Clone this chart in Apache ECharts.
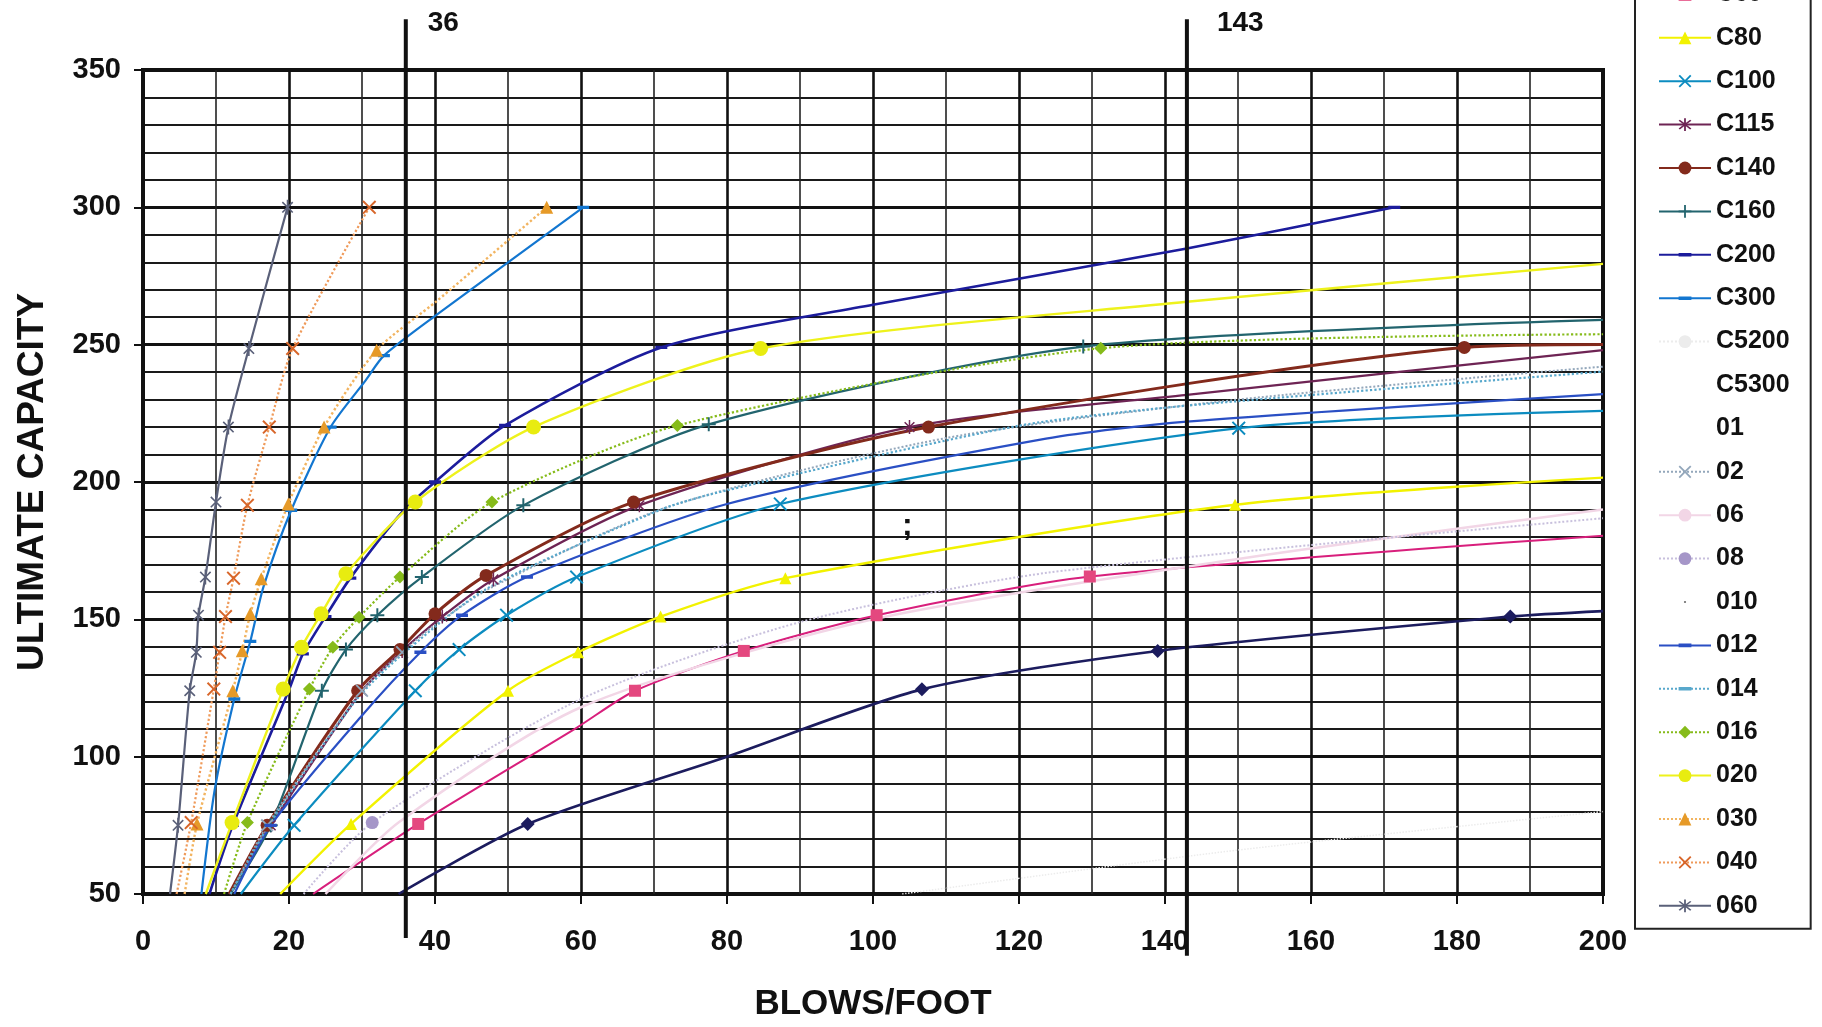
<!DOCTYPE html>
<html>
<head>
<meta charset="utf-8">
<script src="https://cdn.jsdelivr.net/npm/echarts@6/dist/echarts.min.js"></script>
<style>
html, body { margin: 0; padding: 0; background: #fff; }
#container { width: 1822px; height: 1027px; }
</style>
</head>
<body>
<div id="container"></div>
<script>
// points are [blows/foot, capacity]; a third value 0 = point, no marker
var c40 = [[35,50,0],[52.7,75.5],[80,100,0],[106.7,124.5],[139,138.5],[187.3,151],[200,153,0]];
var c60 = [[23.3,50,0],[37.7,75.5],[59.5,110.7,0],[67.4,124],[82.3,138.5],[100.5,151.5],[129.7,165.6],[200,180.4,0]];
var c80 = [[18.8,50,0],[28.5,75.5],[50,124],[59.6,138],[70.9,151],[88,165],[149.6,191.7],[200,201.6,0]];
var c100 = [[13.4,50,0],[20.7,75],[37.3,124],[43.3,139],[49.8,151.5],[59.4,165.4],[87.3,192],[150.1,219.6],[200,225.9,0]];
var c115 = [[11.8,50,0],[17.5,75],[30,124],[35.5,138.5],[41,151],[48,164.5],[68,191.5],[105,220],[143,231.7,0],[200,248,0]];
var c140 = [[11.8,50,0],[17,75],[29.4,124],[35.2,139],[40,152],[47,166],[67.2,192.7],[107.6,220],[181,249],[200,250.1,0]];
var c160 = [[12,50,0],[17.5,75],[24.5,124],[27.8,139],[32.1,151.5],[38.2,165.4],[52.1,191.5],[77.5,221],[128.8,249.3],[200,259,0]];
var c200 = [[9.1,50,0],[12.3,75],[20.1,125,0],[21.9,137.4],[25,151],[28.4,165],[35.5,189,0],[40,200],[49.6,220.6],[71,249],[100,264.5,0],[143,285,0],[171.4,300]];
var c300 = [[8,50,0],[9.8,87.6,0],[12.5,121],[14.7,142],[16.5,161.8,0],[20.3,189.7],[25.7,220],[30.5,237,0],[33,246],[40.3,261,0],[60.3,300]];
var c5200 = [[104,50,0],[150,66,0],[200,80,0]];
var c5300 = [];
var o01 = [];
var o02 = [[12,50,0],[17,75],[30,124],[35.5,138],[40,148,0],[48,162,0],[72,191,0],[110,216,0],[150,230,0],[200,242,0]];
var o06 = [[25,50,0],[35,76,0],[60,118,0],[100,150,0],[150,172,0],[200,190,0]];
var o08 = [[22,50,0],[31.4,76],[60,121,0],[90,149,0],[124,167,0],[200,186.8,0]];
var o010 = [];
var o012 = [[12.5,50,0],[17.5,75],[30,115,0],[38,138],[43.7,151.5],[52.6,165.4],[80,192,0],[123.7,215.8,0],[143,222,0],[200,232,0]];
var o014 = [[12,50,0],[17,74,0],[29,120,0],[35,136,0],[47,161,0],[71,190,0],[80,197,0],[120,220.5,0],[143,227.8,0],[200,240.2,0]];
var o016 = [[11.1,50,0],[14.3,76],[22.8,124.6],[26,139.8],[29.6,150.8],[35.2,165.4],[47.8,192.7],[73.2,220.6],[131.2,248.7],[200,253.8,0]];
var o020 = [[8.6,50,0],[12.2,76],[19.2,124.6],[21.7,139.8],[24.4,152],[27.8,166.6],[37.3,192.7],[53.5,220],[84.6,248.6],[143,265.6,0],[200,279.4,0]];
var o030 = [[5.7,50,0],[7.4,75.5],[12.3,124],[13.6,138.6],[14.7,152],[16.2,164.8],[19.9,192],[24.8,220],[32,248],[40.3,266,0],[55.3,300]];
var o040 = [[4.6,50,0],[6.6,76],[9.7,124.6],[10.5,138],[11.3,151],[12.4,165],[14.3,191.5],[17.3,220],[20.5,248.6],[31,300]];
var o060 = [[3.7,50,0],[4.8,75],[6.4,124],[7.3,138],[7.6,151.5],[8.55,165.4],[10,192.7],[11.7,220],[14.5,248.6],[19.8,300]];

// the two marked blow counts, drawn from below the x axis to above the plot
var refBlows = [36, 143];
var refLabels = ['36', '143'];
var refBottom = [34, 27.5];
var refTop = 368.5;

var xTicks = { min: 0, max: 200, step: 20 };
var yTicks = { min: 50, max: 350, step: 50 };

var FONT = '"Liberation Sans", Arial, sans-serif';

// marker shapes; the tiny corner triangles keep the box square so the legend does not stretch them
var symX = 'path://M1,0 L5,4 L9,0 L10,1 L6,5 L10,9 L9,10 L5,6 L1,10 L0,9 L4,5 L0,1 Z';
var symStar = 'path://M1,0 L5,4 L9,0 L10,1 L6,5 L10,9 L9,10 L5,6 L1,10 L0,9 L4,5 L0,1 Z M4.3,-1.5 H5.7 V11.5 H4.3 Z';
var symPlus = 'path://M4.3,0 H5.7 V4.3 H10 V5.7 H5.7 V10 H4.3 V5.7 H0 V4.3 H4.3 Z';
var symDash = 'path://M0,0 L0.01,0 L0,0.01 Z M0,3.6 H10 V6.4 H0 Z M10,10 L9.99,10 L10,9.99 Z';
var symDot = 'path://M0,0 L0.01,0 L0,0.01 Z M4.2,4.2 H5.8 V5.8 H4.2 Z M10,10 L9.99,10 L10,9.99 Z';

var chart = echarts.init(document.getElementById('container'));

function pts(arr) {
    return arr.map(function (p) {
        if (p.length > 2 && p[2] === 0) {
            return { value: [p[0], p[1]], symbol: 'none' };
        }
        return [p[0], p[1]];
    });
}

function curve(name, data, color, symbol, size, width, type, markerColor) {
    return {
        type: 'line',
        name: name,
        data: pts(data),
        smooth: 0.25,
        symbol: symbol,
        symbolSize: size,
        symbolKeepAspect: true,
        showSymbol: true,
        animation: false,
        lineStyle: { color: color, width: width, type: type || 'solid' },
        itemStyle: { color: markerColor || color, borderWidth: 0 },
        z: 3
    };
}

var series = [
    curve('C40', c40, '#1c1c5e', 'diamond', 14, 2.6),
    curve('C60', c60, '#d81f7c', 'rect', 12, 2, 'solid', '#e4487f'),
    curve('C80', c80, '#f2f200', 'triangle', 12, 2.4),
    curve('C100', c100, '#0c8cc0', symX, 14, 2.2),
    curve('C115', c115, '#6e2454', symStar, 14, 2.2),
    curve('C140', c140, '#832a1c', 'circle', 13, 3),
    curve('C160', c160, '#22646e', symPlus, 14, 2.2),
    curve('C200', c200, '#1c1c9c', symDash, 12, 2.6),
    curve('C300', c300, '#1276d0', symDash, 12, 2.2),
    curve('C5200', c5200, '#ececec', 'none', 4, 1.5, 'dotted'),
    curve('C5300', c5300, '#ffffff', 'none', 4, 1),
    curve('01', o01, '#ffffff', 'none', 4, 1),
    curve('02', o02, '#93a7bb', symX, 13, 2, 'dotted'),
    curve('06', o06, '#f2d6e6', 'none', 4, 2.5),
    curve('08', o08, '#c8c0dd', 'circle', 13, 2, 'dotted', '#a596c8'),
    curve('010', o010, 'rgba(0,0,0,0)', symDot, 12, 1, 'solid', '#888888'),
    curve('012', o012, '#2a4fc4', symDash, 12, 2.2),
    curve('014', o014, '#58a8cc', symDash, 12, 2.2, 'dotted'),
    curve('016', o016, '#86bb1a', 'diamond', 13, 2.2, 'dotted'),
    curve('020', o020, '#eef21c', 'circle', 15, 2.4, 'solid', '#e8ec10'),
    curve('030', o030, '#f2b460', 'triangle', 13, 2.4, 'dotted', '#e69a28'),
    curve('040', o040, '#ef9a5a', symX, 14, 2.2, 'dotted', '#d8662a'),
    curve('060', o060, '#5a6079', symStar, 15, 2.2)
];
var legendNames = series.map(function (s) { return s.name; });

refBlows.forEach(function (b, i) {
    series.push({
        type: 'line',
        name: 'ref' + refLabels[i],
        data: [[b, refBottom[i]], [b, refTop]],
        symbol: 'none',
        clip: false,
        animation: false,
        silent: true,
        lineStyle: { color: '#111', width: 4 },
        endLabel: {
            show: true,
            formatter: refLabels[i],
            distance: i === 0 ? 22 : 30,
            offset: [0, 4],
            fontFamily: FONT,
            fontWeight: 'bold',
            fontSize: 28,
            color: '#111'
        },
        z: 5
    });
});

var option = {
    backgroundColor: '#ffffff',
    animation: false,
    grid: {
        left: 143,
        right: 219,
        top: 70,
        bottom: 132,
        show: true,
        borderColor: '#111',
        borderWidth: 4,
        backgroundColor: 'transparent'
    },
    legend: {
        data: legendNames,
        orient: 'vertical',
        left: 1635,
        top: -64,
        padding: [2, 21, 10, 23],
        itemWidth: 52,
        itemHeight: 16,
        itemGap: 17.4,
        backgroundColor: '#fff',
        borderColor: '#222',
        borderWidth: 2,
        textStyle: {
            fontFamily: FONT,
            fontWeight: 'bold',
            fontSize: 25,
            lineHeight: 26,
            color: '#111'
        },
        selectedMode: false
    },
    xAxis: {
        type: 'value',
        min: xTicks.min,
        max: xTicks.max,
        interval: xTicks.step,
        name: 'BLOWS/FOOT',
        nameLocation: 'middle',
        nameGap: 93,
        nameTextStyle: { fontFamily: FONT, fontWeight: 'bold', fontSize: 35, color: '#111' },
        axisLine: { show: false },
        axisTick: { show: true, length: 10, lineStyle: { color: '#111', width: 2 } },
        axisLabel: { margin: 33, fontFamily: FONT, fontWeight: 'bold', fontSize: 29, color: '#111' },
        splitLine: { show: true, lineStyle: { color: '#111', width: 2.6 } },
        minorTick: { show: false, splitNumber: 2 },
        minorSplitLine: { show: true, lineStyle: { color: '#222', width: 1.6 } }
    },
    yAxis: {
        type: 'value',
        min: yTicks.min,
        max: yTicks.max,
        interval: yTicks.step,
        name: 'ULTIMATE CAPACITY',
        nameLocation: 'middle',
        nameGap: 92,
        nameTextStyle: { fontFamily: FONT, fontWeight: 'bold', fontSize: 37, color: '#111' },
        axisLine: { show: false },
        axisTick: { show: true, length: 9, lineStyle: { color: '#111', width: 2 } },
        axisLabel: { margin: 22, fontFamily: FONT, fontWeight: 'bold', fontSize: 29, color: '#111' },
        splitLine: { show: true, lineStyle: { color: '#111', width: 3 } },
        minorTick: { show: false, splitNumber: 5 },
        minorSplitLine: { show: true, lineStyle: { color: '#1a1a1a', width: 2 } }
    },
    graphic: [{
        type: 'text',
        left: 902,
        top: 510,
        style: { text: ';', font: 'bold 32px ' + FONT, fill: '#111' },
        z: 10
    }],
    series: series
};

chart.setOption(option);
</script>
</body>
</html>
